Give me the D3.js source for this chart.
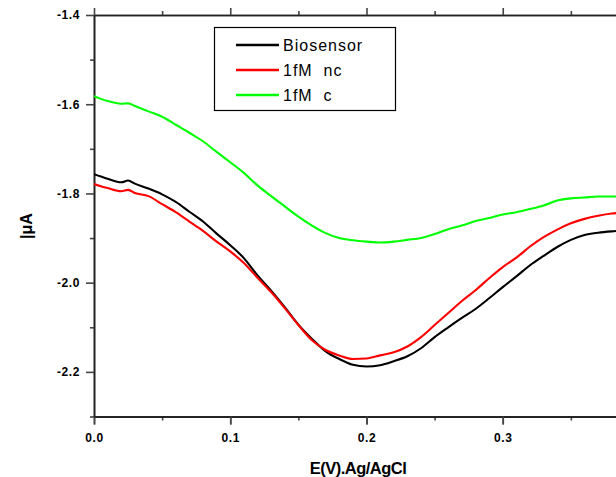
<!DOCTYPE html>
<html><head><meta charset="utf-8">
<script src="https://cdn.jsdelivr.net/npm/d3@7/dist/d3.min.js"></script>
<style>body{margin:0;background:#fff} svg{display:block}</style>
</head><body><svg id="c" width="616" height="477"></svg>
<script>
// Potential (V vs Ag/AgCl)
const potential = [0,0.005,0.01,0.02,0.025,0.03,0.04,0.05,0.06,0.07,0.08,0.09,0.10,0.11,0.12,0.13,0.14,0.15,0.16,0.17,0.18,0.19,0.20,0.21,0.22,0.23,0.24,0.25,0.26,0.27,0.28,0.29,0.30,0.31,0.32,0.33,0.34,0.35,0.36,0.37,0.38,0.39,0.40];
// Current (µA)
const biosensor = [-1.757,-1.762,-1.767,-1.775,-1.771,-1.778,-1.789,-1.802,-1.819,-1.841,-1.863,-1.890,-1.916,-1.945,-1.984,-2.018,-2.055,-2.094,-2.126,-2.154,-2.171,-2.184,-2.188,-2.185,-2.176,-2.165,-2.147,-2.122,-2.100,-2.079,-2.059,-2.035,-2.010,-1.986,-1.961,-1.940,-1.920,-1.904,-1.893,-1.888,-1.885,-1.883,-1.881];
const nc1fM = [-1.779,-1.784,-1.788,-1.795,-1.792,-1.799,-1.806,-1.824,-1.842,-1.863,-1.884,-1.908,-1.930,-1.956,-1.989,-2.021,-2.057,-2.095,-2.129,-2.151,-2.163,-2.171,-2.170,-2.163,-2.156,-2.143,-2.122,-2.095,-2.068,-2.041,-2.017,-1.990,-1.965,-1.944,-1.919,-1.898,-1.881,-1.867,-1.857,-1.850,-1.845,-1.843,-1.841];
const c1fM = [-1.582,-1.588,-1.593,-1.599,-1.598,-1.604,-1.616,-1.628,-1.646,-1.664,-1.683,-1.707,-1.730,-1.754,-1.782,-1.806,-1.829,-1.852,-1.872,-1.889,-1.900,-1.905,-1.908,-1.910,-1.908,-1.904,-1.900,-1.891,-1.880,-1.872,-1.862,-1.855,-1.847,-1.842,-1.835,-1.827,-1.816,-1.811,-1.809,-1.807,-1.807,-1.807,-1.806];
const seriesNames = ["Biosensor", "1fM  nc", "1fM  c"];
const seriesColors = ["#000000", "#ff0000", "#00ff00"];
const xLabelTicks = [0, 0.1, 0.2, 0.3];
const xMajorTicks = [0, 0.1, 0.2, 0.3, 0.4];
const xMinorTicks = [0.05, 0.15, 0.25, 0.35];
const yMajorTicks = [-1.4, -1.6, -1.8, -2.0, -2.2];
const yMinorTicks = [-1.5, -1.7, -1.9, -2.1, -2.3];
const xTitle = "E(V).Ag/AgCl";
const yTitle = "|\u03bcA";

const series = [biosensor, nc1fM, c1fM];
const svg = d3.select("#c");
const L = 94, T = 15, R = 639, B = 416.5;
const x = d3.scaleLinear().domain([0, 0.4]).range([L, R]);
const y = d3.scaleLinear().domain([-2.3, -1.4]).range([B, T]);
const fmt = d => d.toFixed(1);
const font = "'Liberation Sans', Arial, sans-serif";

svg.append("defs").append("clipPath").attr("id", "clip")
  .append("rect").attr("x", L).attr("y", T).attr("width", R - L).attr("height", B - T);

function styleAxis(g) {
  g.selectAll("path.domain").attr("stroke", "#222").attr("stroke-width", 1.6);
  g.selectAll(".tick line").attr("stroke", "#444").attr("stroke-width", 1.6);
  g.selectAll(".tick text").attr("fill", "#000").style("font-family", font)
    .style("font-weight", "bold").style("font-size", "12px").style("letter-spacing", "0.6px");
}

// bottom axis
svg.append("g").attr("transform", `translate(0,${B})`)
  .call(d3.axisBottom(x).tickValues(xMinorTicks).tickSize(4).tickSizeOuter(0).tickFormat(""))
  .call(styleAxis);
svg.append("g").attr("transform", `translate(0,${B})`)
  .call(d3.axisBottom(x).tickValues(xMajorTicks).tickSize(8).tickSizeOuter(0).tickFormat(""))
  .call(styleAxis);
svg.append("g").attr("transform", `translate(0,${B})`)
  .call(d3.axisBottom(x).tickValues(xLabelTicks).tickSize(8).tickSizeOuter(0).tickPadding(9).tickFormat(fmt))
  .call(styleAxis);
// top axis
svg.append("g").attr("transform", `translate(0,${T})`)
  .call(d3.axisTop(x).tickValues(xMinorTicks).tickSize(4).tickSizeOuter(0).tickFormat(""))
  .call(styleAxis);
svg.append("g").attr("transform", `translate(0,${T})`)
  .call(d3.axisTop(x).tickValues(xMajorTicks).tickSize(7).tickSizeOuter(0).tickFormat(""))
  .call(styleAxis);
// left axis
svg.append("g").attr("transform", `translate(${L},0)`)
  .call(d3.axisLeft(y).tickValues(yMinorTicks).tickSize(4).tickSizeOuter(0).tickFormat(""))
  .call(styleAxis);
svg.append("g").attr("transform", `translate(${L},0)`)
  .call(d3.axisLeft(y).tickValues(yMajorTicks).tickSize(8).tickSizeOuter(0).tickPadding(6).tickFormat(fmt))
  .call(styleAxis);
// right axis (beyond visible window)
svg.append("g").attr("transform", `translate(${R},0)`)
  .call(d3.axisRight(y).tickValues(yMajorTicks).tickSize(8).tickSizeOuter(0).tickFormat(""))
  .call(styleAxis);

// lines
const line = d3.line().x((d, i) => x(potential[i])).y(d => y(d)).curve(d3.curveMonotoneX);
const plot = svg.append("g").attr("clip-path", "url(#clip)");
series.forEach((s, k) => {
  plot.append("path").datum(s).attr("d", line)
    .attr("fill", "none").attr("stroke", seriesColors[k]).attr("stroke-width", 2.1)
    .attr("stroke-linejoin", "round");
});

// axis titles
svg.append("text").attr("x", 358).attr("y", 474).attr("text-anchor", "middle")
  .style("font-family", font).style("font-weight", "bold").style("font-size", "16.5px")
  .style("letter-spacing", "-0.5px").text(xTitle);
svg.append("text").attr("transform", "translate(32,226) rotate(-90)").attr("text-anchor", "middle")
  .style("font-family", font).style("font-weight", "bold").style("font-size", "16px").text(yTitle);

// legend
const lg = svg.append("g");
lg.append("rect").attr("x", 214.5).attr("y", 27.5).attr("width", 181).attr("height", 83)
  .attr("fill", "#fff").attr("stroke", "#000").attr("stroke-width", 1.2);
const rowY = d3.scalePoint().domain(seriesNames).range([45, 95]);
seriesNames.forEach((n, k) => {
  lg.append("line").attr("x1", 236).attr("x2", 279).attr("y1", rowY(n)).attr("y2", rowY(n))
    .attr("stroke", seriesColors[k]).attr("stroke-width", 2.4);
  lg.append("text").attr("x", 283).attr("y", rowY(n) + 5.5)
    .style("font-family", font).style("font-size", "16px").style("letter-spacing", "1px")
    .style("white-space", "pre").text(n);
});
</script></body></html>
